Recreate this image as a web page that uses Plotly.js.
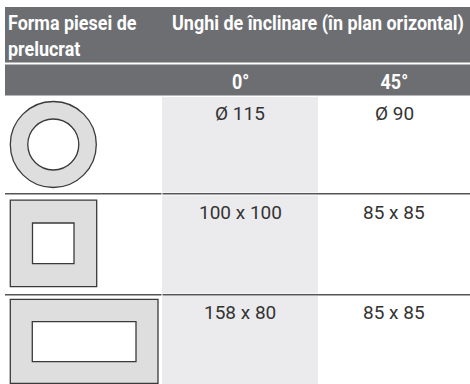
<!DOCTYPE html>
<html>
<head>
<meta charset="utf-8">
<script src="https://cdn.plot.ly/plotly-3.0.1.min.js"></script>
<style>html,body{margin:0;padding:0;background:#fff;overflow:hidden}#chart{width:470px;height:384px}</style>
</head>
<body>
<div id="chart"></div>
<script>
// ---- table content ----
const captionText = 'Dimensiuni maxime ale piesei de prelucrat [mm]';
const headerShape = 'Forma piesei de<br>prelucrat';
const headerAngle = 'Unghi de înclinare (în plan orizontal)';
const angleLabels = ['0°', '45°'];
const workpieceShapes = ['circle', 'square', 'rectangle'];
const sizesAt0 = ['Ø 115', '100 x 100', '158 x 80'];
const sizesAt45 = ['Ø 90', '85 x 85', '85 x 85'];

// ---- layout geometry (pixel coordinates through the axes) ----
const W = 470, H = 384;
const tableLeft = 5;
const colEdges = [tableLeft, 162, 318, W];
const rowTops = [97, 195.5, 296];
const rowBottoms = [192.5, 293.5, H];
const lineYs = [193.8, 294.8];
const headColor = '#6d6e71';
const zebra = '#ebebed';
const lineColor = '#545557';
const shapeFill = '#dededf';
const shapeLine = '#3a3a3a';
const bodyFont = {family: 'Roboto, "Liberation Sans", sans-serif', size: 19, color: '#333333'};
const headFont = {family: 'Roboto, "Liberation Sans", sans-serif', size: 20, color: '#ffffff', weight: 'bold'};
const headerAngleWidth = 292;   // condensed header width in the reference

const shapes = [];
const annotations = [];
const headerIdx = [];

function rect(x0, y0, x1, y1, fill) {
  shapes.push({type: 'rect', xref: 'x', yref: 'y', x0, y0, x1, y1,
    fillcolor: fill, line: {color: fill, width: 0}, layer: 'below'});
}

// header bands
rect(tableLeft, 7, W, 62.5, headColor);
rect(tableLeft, 64.5, W, 95.5, headColor);

// shaded 0° column
rowTops.forEach((t, i) => rect(colEdges[1], t, colEdges[2], rowBottoms[i], zebra));

// row separator lines (with a small gap at the first column boundary)
lineYs.forEach(y => {
  shapes.push({type: 'line', xref: 'x', yref: 'y', x0: tableLeft, x1: colEdges[1] - 0.5, y0: y, y1: y, line: {color: lineColor, width: 1.6}});
  shapes.push({type: 'line', xref: 'x', yref: 'y', x0: colEdges[1] + 0.5, x1: W, y0: y, y1: y, line: {color: lineColor, width: 1.6}});
});

// workpiece pictograms
function pictogram(kind, top) {
  const st = {color: shapeLine, width: 1.3};
  if (kind === 'circle') {
    const cx = 53.3, cy = top + 47.5;
    shapes.push({type: 'circle', xref: 'x', yref: 'y', x0: cx - 43, x1: cx + 43, y0: cy - 43, y1: cy + 43, fillcolor: shapeFill, line: st});
    shapes.push({type: 'circle', xref: 'x', yref: 'y', x0: cx - 25.5, x1: cx + 25.5, y0: cy - 25.5, y1: cy + 25.5, fillcolor: '#ffffff', line: st});
  } else if (kind === 'square') {
    shapes.push({type: 'rect', xref: 'x', yref: 'y', x0: 10.3, x1: 96.7, y0: top + 4.7, y1: top + 91.2, fillcolor: shapeFill, line: st});
    shapes.push({type: 'rect', xref: 'x', yref: 'y', x0: 32.5, x1: 74, y0: top + 27.5, y1: top + 68.2, fillcolor: '#ffffff', line: st});
  } else {
    shapes.push({type: 'rect', xref: 'x', yref: 'y', x0: 10.3, x1: 158, y0: top + 3.3, y1: top + 87.3, fillcolor: shapeFill, line: st});
    shapes.push({type: 'rect', xref: 'x', yref: 'y', x0: 32.3, x1: 136, y0: top + 25.7, y1: top + 65.7, fillcolor: '#ffffff', line: st});
  }
}
workpieceShapes.forEach((k, i) => pictogram(k, rowTops[i]));

// caption (cut off at the top edge, as in the reference)
annotations.push({xref: 'x', yref: 'y', x: 229, y: 1, xanchor: 'center', yanchor: 'bottom',
  text: captionText, showarrow: false, font: {family: bodyFont.family, size: 18, color: '#333333'}});

// header texts
headerIdx.push(annotations.length);
annotations.push({xref: 'x', yref: 'y', x: 6, y: 9, xanchor: 'left', yanchor: 'top', align: 'left',
  text: headerShape, showarrow: false, font: headFont});
const angleIdx = annotations.length;
headerIdx.push(angleIdx);
annotations.push({xref: 'x', yref: 'y', x: 170, y: 9, xanchor: 'left', yanchor: 'top', align: 'left',
  text: headerAngle, showarrow: false, font: headFont});
angleLabels.forEach((t, j) => {
  headerIdx.push(annotations.length);
  annotations.push({xref: 'x', yref: 'y', x: (colEdges[j + 1] + colEdges[j + 2]) / 2, y: 82, xanchor: 'center', yanchor: 'middle',
    text: t, showarrow: false, font: headFont});
});

// body values
[sizesAt0, sizesAt45].forEach((vals, j) => {
  vals.forEach((v, i) => {
    annotations.push({xref: 'x', yref: 'y', x: (colEdges[j + 1] + colEdges[j + 2]) / 2, y: rowTops[i] + 16.5,
      xanchor: 'center', yanchor: 'middle', text: v, showarrow: false, font: bodyFont});
  });
});

const layout = {
  width: W, height: H,
  margin: {l: 0, r: 0, t: 0, b: 0, pad: 0},
  paper_bgcolor: '#ffffff', plot_bgcolor: '#ffffff',
  xaxis: {range: [0, W], visible: false, fixedrange: true},
  yaxis: {range: [H, 0], visible: false, fixedrange: true},
  showlegend: false,
  shapes, annotations
};

function condense(gd) {
  // the reference uses a condensed bold face: squeeze header texts horizontally
  const textOf = i => gd.querySelector('.annotation[data-index="' + i + '"] .annotation-text');
  const long = textOf(angleIdx);
  if (!long) return;
  const f = Math.min(1, headerAngleWidth / long.getBBox().width);
  headerIdx.forEach(i => {
    const t = textOf(i);
    if (!t) return;
    const x = parseFloat(t.getAttribute('x')) || 0;
    const prev = t.getAttribute('transform') || '';
    t.setAttribute('transform', prev + ' translate(' + x + ',0) scale(' + f + ',1) translate(' + (-x) + ',0)');
  });
}

Plotly.newPlot('chart', [{type: 'scatter', x: [], y: [], mode: 'markers', hoverinfo: 'skip'}], layout,
  {displayModeBar: false, staticPlot: true}).then(condense);
</script>
</body>
</html>
